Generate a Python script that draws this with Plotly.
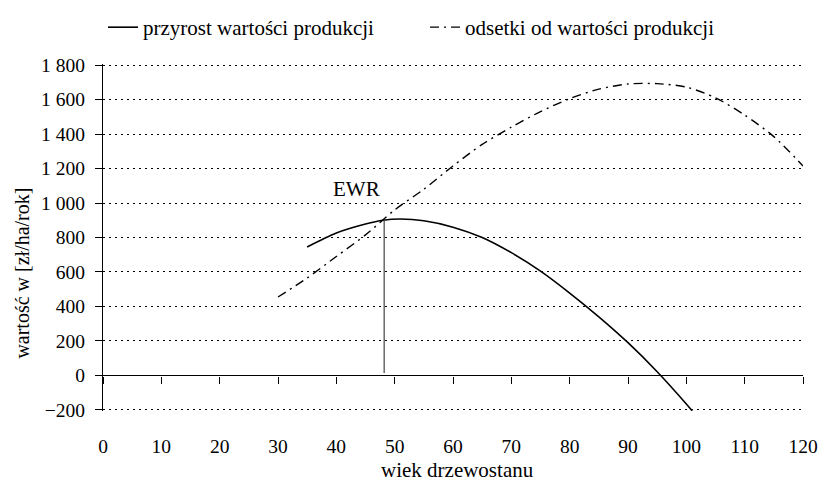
import plotly.graph_objects as go

# data
age_growth = [35, 40, 45, 48, 51, 55, 60, 65, 70, 75, 80, 85, 90, 95, 100, 101]
val_growth = [745, 826, 878, 900, 907, 897, 860, 800, 712, 605, 478, 340, 190, 22, -165, -205]

age_interest = [30, 35, 40, 45, 50, 55, 60, 65, 70, 75, 80, 85, 90, 95, 100, 105, 110, 115, 120]
val_interest = [455, 565, 690, 815, 960, 1080, 1215, 1340, 1440, 1530, 1605, 1660, 1690, 1692, 1672, 1610, 1510, 1385, 1215]

ewr_age = [48.2, 48.2]
ewr_val = [15, 900]
ewr_label = "EWR"
ewr_label_pos = (43.4, 1081)

x_ticks = list(range(0, 121, 10))
y_ticks = [-200, 0, 200, 400, 600, 800, 1000, 1200, 1400, 1600, 1800]
y_ticktext = ["\u2212200", "0", "200", "400", "600", "800", "1 000", "1 200", "1 400", "1 600", "1 800"]

name_growth = "przyrost wartości produkcji"
name_interest = "odsetki od wartości produkcji"
x_title = "wiek drzewostanu"
y_title = "wartość w [zł/ha/rok]"

FONT = "Liberation Serif"

fig = go.Figure()
fig.add_trace(go.Scatter(x=age_growth, y=val_growth, mode="lines", name=name_growth,
                         line=dict(color="black", width=1.6, shape="spline", smoothing=0.8)))
fig.add_trace(go.Scatter(x=age_interest, y=val_interest, mode="lines", name=name_interest,
                         line=dict(color="black", width=1.4, dash="9px,5px,2px,5px",
                                   shape="spline", smoothing=0.8)))
fig.add_trace(go.Scatter(x=ewr_age, y=ewr_val, mode="lines", showlegend=False,
                         line=dict(color="#444444", width=1.2), hoverinfo="skip"))
# carrier for the zero-level axis with ticks
fig.add_trace(go.Scatter(x=[None], y=[None], xaxis="x2", showlegend=False, hoverinfo="skip"))

# plot area: y from -206 to 1806 (so the -200 and 1 800 grid lines are drawn)
Y0, Y1 = -206, 1806
top_px, bot_px = 64.4, 83.0
h_px = 494 - top_px - bot_px


def py(v):
    return (v - Y0) / (Y1 - Y0)


fig.add_annotation(x=ewr_label_pos[0], y=ewr_label_pos[1], text=ewr_label, showarrow=False,
                   font=dict(family=FONT, size=21, color="black"))
fig.add_annotation(xref="paper", yref="paper", x=0.5067, y=py(-200) - 60 / h_px, text=x_title,
                   showarrow=False, xanchor="center", yanchor="middle",
                   font=dict(family=FONT, size=21, color="black"))
fig.add_annotation(xref="paper", yref="paper", x=-0.116, y=py(-200) + 137 / h_px, text=y_title,
                   textangle=-90, showarrow=False, xanchor="center", yanchor="middle",
                   font=dict(family=FONT, size=20, color="black"))

fig.update_layout(
    width=840, height=494,
    margin=dict(l=103.3, r=36.7, t=top_px, b=bot_px, autoexpand=False),
    paper_bgcolor="white", plot_bgcolor="white",
    font=dict(family=FONT, size=19, color="black"),
    showlegend=True,
    legend=dict(orientation="h", x=0.0, xanchor="left", y=py(-200) + 382 / h_px, yanchor="middle",
                font=dict(family=FONT, size=21, color="black"),
                entrywidth=277, entrywidthmode="pixels", bgcolor="rgba(0,0,0,0)"),
    xaxis=dict(range=[0, 120], tickvals=x_ticks, showline=False, ticks="", showgrid=False,
               zeroline=False, ticklabelstandoff=21,
               tickfont=dict(family=FONT, size=19.5)),
    xaxis2=dict(range=[0, 120], matches="x", overlaying="x", anchor="free", position=py(0),
                tickvals=x_ticks, showline=True, linecolor="black", linewidth=1.3,
                ticks="outside", ticklen=7, tickwidth=1.3, tickcolor="black",
                showticklabels=False, showgrid=False, zeroline=False),
    yaxis=dict(range=[Y0, Y1], tickvals=y_ticks, ticktext=y_ticktext,
               showline=True, linecolor="black", linewidth=1.3,
               ticks="outside", ticklen=7, tickwidth=1.3, tickcolor="black",
               showgrid=True, gridcolor="black", gridwidth=1, griddash="2px,4px",
               zeroline=False, ticklabelstandoff=6,
               tickfont=dict(family=FONT, size=19.5)),
)

fig.write_html("out.html")
